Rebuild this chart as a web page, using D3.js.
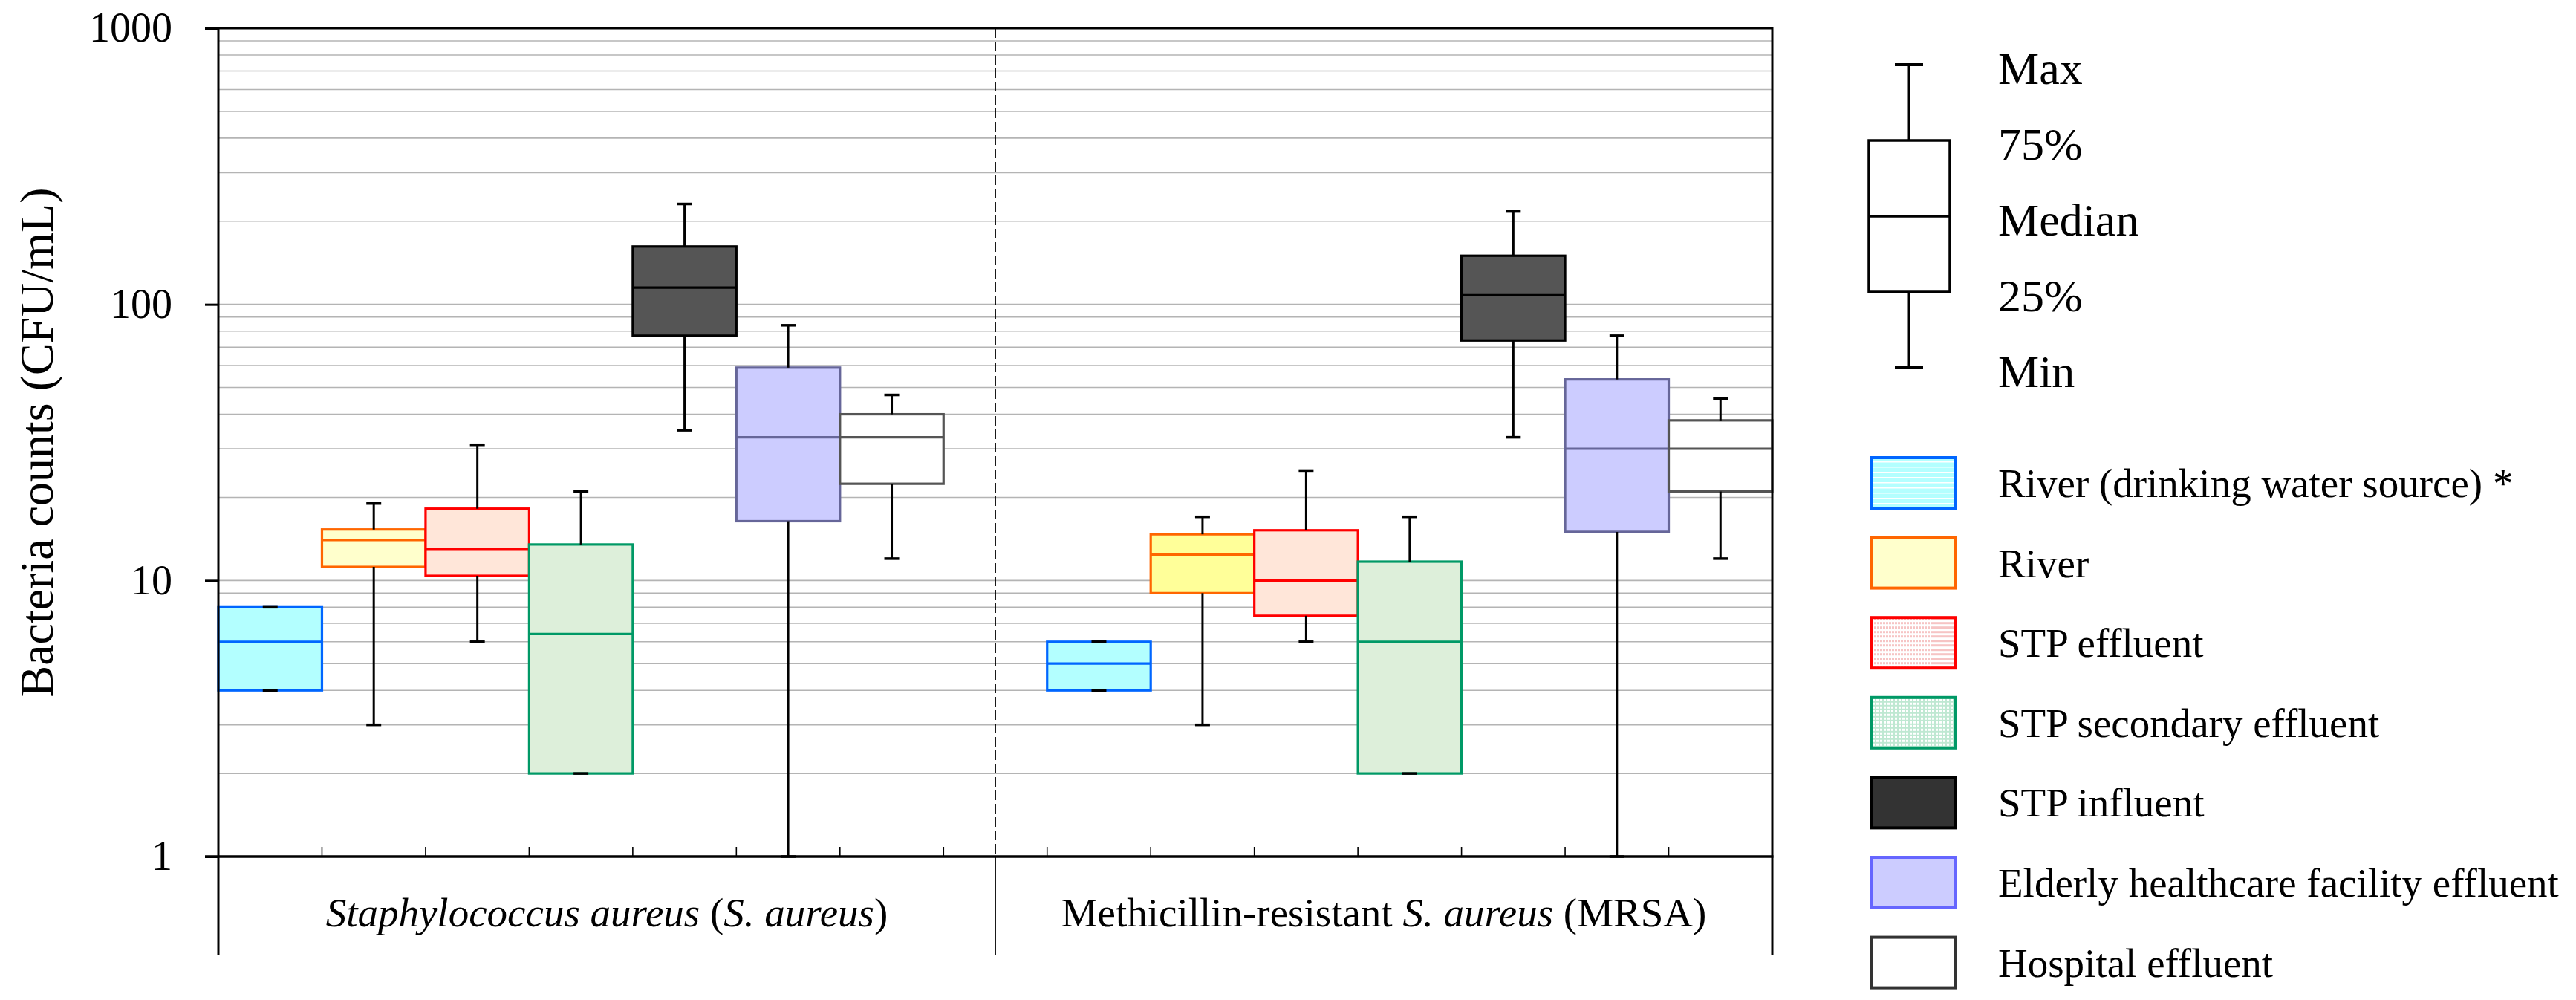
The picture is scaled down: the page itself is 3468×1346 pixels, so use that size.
<!DOCTYPE html>
<html>
<head>
<meta charset="utf-8">
<script src="https://cdn.jsdelivr.net/npm/d3@7"></script>
<style>
body { margin: 0; background: #fff; }
text { font-family: "Liberation Serif", "Times New Roman", serif; fill: #000; }
</style>
</head>
<body>
<svg id="ChartSvg" width="3468" height="1346"></svg>
<script>
// categories and series
var Categories = ["S. aureus", "MRSA"];
var SeriesNames = ["River (drinking water source) *", "River", "STP effluent", "STP secondary effluent",
	"STP influent", "Elderly healthcare facility effluent", "Hospital effluent"];

// S. aureus (CFU/mL)
var SaureusMin    = [4, 3, 6, 2, 35, 1, 12];
var SaureusQ1     = [4, 11.2, 10.4, 2, 77, 16.4, 22.4];
var SaureusMedian = [6, 14, 13, 6.4, 115, 33, 33];
var SaureusQ3     = [8, 15.3, 18.2, 13.5, 162, 59, 40];
var SaureusMax    = [8, 19, 31, 21, 231, 84, 47];

// MRSA (CFU/mL)
var MrsaMin    = [4, 3, 6, 2, 33, 1, 12];
var MrsaQ1     = [4, 9, 7.45, 2, 74, 15, 21];
var MrsaMedian = [5, 12.4, 10, 6, 108, 30, 30];
var MrsaQ3     = [6, 14.7, 15.2, 11.7, 150, 53.5, 38];
var MrsaMax    = [6, 17, 25, 17, 217, 77, 45.6];

var YTicks = [1, 10, 100, 1000];
var KeyLabels = ["Max", "75%", "Median", "25%", "Min"];
var KeyValues = [5, 4, 3, 2, 1];

// styles
var BoxFill = [["#B3FFFF", "#FFFFCC", "#FFE6D9", "#DDEFDA", "#555555", "#CCCCFF", "#FFFFFF"],
	["#B3FFFF", "#FFFF99", "#FFE6D9", "#DDEFDA", "#555555", "#CCCCFF", "#FFFFFF"]];
var BoxStroke = ["#0066FF", "#FF6600", "#FF0000", "#009966", "#000000", "#666699", "#555555"];
var LegendFill = ["url(#PatCyan)", "#FFFFCC", "url(#PatPink)", "url(#PatGreen)", "#333333", "#CCCCFF", "#FFFFFF"];
var LegendStroke = ["#0066FF", "#FF6600", "#FF0000", "#009966", "#000000", "#6666FF", "#333333"];

var Left = 294, Right = 2386, Top = 38, Bottom = 1153, Below = 1285;
var svg = d3.select("#ChartSvg");

var y = d3.scaleLog().domain([1, 1000]).range([Bottom, Top]);
var x = d3.scaleBand().domain(d3.range(15)).range([Left, Right]).padding(0);

function PanelData(Min, Q1, Med, Q3, Max, p)
{
	return SeriesNames.map(function(name, i)
	{
		return {slot: p * 8 + i, s: i, p: p, min: Min[i], q1: Q1[i], med: Med[i], q3: Q3[i], max: Max[i]};
	});
}
var BoxData = PanelData(SaureusMin, SaureusQ1, SaureusMedian, SaureusQ3, SaureusMax, 0)
	.concat(PanelData(MrsaMin, MrsaQ1, MrsaMedian, MrsaQ3, MrsaMax, 1));

// patterns for legend swatches
var defs = svg.append("defs");
var p1 = defs.append("pattern").attr("id", "PatCyan").attr("patternUnits", "userSpaceOnUse").attr("width", 6).attr("height", 7);
p1.append("rect").attr("width", 6).attr("height", 7).attr("fill", "#B3FFFF");
p1.append("rect").attr("y", 5).attr("width", 6).attr("height", 1.5).attr("fill", "#FFFFFF");
var p2 = defs.append("pattern").attr("id", "PatPink").attr("patternUnits", "userSpaceOnUse").attr("width", 4).attr("height", 6);
p2.append("rect").attr("width", 4).attr("height", 6).attr("fill", "#FFFFFF");
p2.append("rect").attr("width", 3).attr("height", 3).attr("fill", "#F6C4C4");
var p3 = defs.append("pattern").attr("id", "PatGreen").attr("patternUnits", "userSpaceOnUse").attr("width", 5).attr("height", 5);
p3.append("rect").attr("width", 5).attr("height", 5).attr("fill", "#FFFFFF");
p3.append("rect").attr("width", 2).attr("height", 5).attr("fill", "#BFE8D2");
p3.append("rect").attr("width", 5).attr("height", 2).attr("fill", "#BFE8D2");

// grid lines
var GridValues = [];
[1, 10, 100].forEach(function(d)
{
	for (var k = 2; k <= 10; k++) GridValues.push(k * d);
});
GridValues = GridValues.filter(function(v) { return v < 1000; });
svg.append("g").selectAll("line").data(GridValues).enter().append("line")
	.attr("x1", Left).attr("x2", Right)
	.attr("y1", function(d) { return y(d); })
	.attr("y2", function(d) { return y(d); })
	.attr("stroke", "#B4B4B4").attr("stroke-width", 1.6);

// boxes
var Boxes = svg.append("g").selectAll("g").data(BoxData).enter().append("g");
Boxes.append("rect")
	.attr("x", function(d) { return x(d.slot); })
	.attr("width", x.bandwidth())
	.attr("y", function(d) { return y(d.q3); })
	.attr("height", function(d) { return y(d.q1) - y(d.q3); })
	.attr("fill", function(d) { return BoxFill[d.p][d.s]; })
	.attr("stroke", function(d) { return BoxStroke[d.s]; })
	.attr("stroke-width", 3.2);
Boxes.append("line")
	.attr("x1", function(d) { return x(d.slot); })
	.attr("x2", function(d) { return x(d.slot) + x.bandwidth(); })
	.attr("y1", function(d) { return y(d.med); })
	.attr("y2", function(d) { return y(d.med); })
	.attr("stroke", function(d) { return BoxStroke[d.s]; })
	.attr("stroke-width", 3.2);

// whiskers
function Whisker(g, from, to)
{
	var cx = function(d) { return x(d.slot) + x.bandwidth() / 2; };
	g.append("line")
		.attr("x1", cx).attr("x2", cx)
		.attr("y1", function(d) { return y(d[from]); })
		.attr("y2", function(d) { return y(d[to]); })
		.attr("stroke", "#000").attr("stroke-width", 3);
	g.append("line")
		.attr("x1", function(d) { return cx(d) - 10; })
		.attr("x2", function(d) { return cx(d) + 10; })
		.attr("y1", function(d) { return y(d[to]); })
		.attr("y2", function(d) { return y(d[to]); })
		.attr("stroke", "#000").attr("stroke-width", 3.5);
}
Whisker(Boxes, "q3", "max");
Whisker(Boxes, "q1", "min");

// frame
var Frame = svg.append("g").attr("stroke", "#000").attr("fill", "none");
Frame.append("line").attr("x1", Left).attr("x2", Right).attr("y1", Top).attr("y2", Top).attr("stroke-width", 3);
Frame.append("line").attr("x1", Left).attr("x2", Left).attr("y1", Top - 1.5).attr("y2", Below).attr("stroke-width", 3);
Frame.append("line").attr("x1", Right).attr("x2", Right).attr("y1", Top - 1.5).attr("y2", Below).attr("stroke-width", 3);
var Mid = (x(7) + x(7) + x.bandwidth()) / 2;
Frame.append("line").attr("x1", Mid).attr("x2", Mid).attr("y1", Top).attr("y2", Bottom)
	.attr("stroke-width", 1.8).attr("stroke-dasharray", "13,5");
Frame.append("line").attr("x1", Mid).attr("x2", Mid).attr("y1", Bottom).attr("y2", Below).attr("stroke-width", 1.8);
// inner ticks on the category axis
Frame.selectAll(".bt").data(d3.range(1, 15)).enter().append("line")
	.attr("x1", function(d) { return x(d); })
	.attr("x2", function(d) { return x(d); })
	.attr("y1", Bottom).attr("y2", Bottom - 13)
	.attr("stroke-width", 1.6);

// y axis
var YAxis = svg.append("g").attr("transform", "translate(" + Left + ",0)")
	.call(d3.axisLeft(y).tickValues(YTicks).tickFormat(d3.format("d")).tickSize(18).tickPadding(44));
YAxis.select(".domain").remove();
YAxis.selectAll(".tick line").attr("stroke", "#000").attr("stroke-width", 3);
YAxis.selectAll(".tick text").attr("font-family", "Liberation Serif").attr("font-size", 56).attr("fill", "#000");

// bottom axis line
svg.append("line").attr("x1", Left - 18).attr("x2", Right + 1.5).attr("y1", Bottom).attr("y2", Bottom)
	.attr("stroke", "#000").attr("stroke-width", 3.5);

svg.append("text")
	.attr("transform", "translate(71," + (Top + Bottom) / 2 + ") rotate(-90)")
	.attr("text-anchor", "middle").attr("font-size", 64)
	.text("Bacteria counts (CFU/mL)");

// category labels
var CatParts = [
	[["Staphylococcus aureus", true], [" (", false], ["S. aureus", true], [")", false]],
	[["Methicillin-resistant ", false], ["S. aureus", true], [" (MRSA)", false]]
];
CatParts.forEach(function(parts, p)
{
	var cx = p == 0 ? (Left + Mid) / 2 : (Mid + Right) / 2;
	var t = svg.append("text").attr("x", cx).attr("y", 1247).attr("text-anchor", "middle").attr("font-size", 55)
		.attr("data-category", Categories[p]);
	parts.forEach(function(pt)
	{
		t.append("tspan").attr("font-style", pt[1] ? "italic" : "normal").text(pt[0]);
	});
});

// box plot key
var Key = svg.append("g");
var ky = d3.scaleLinear().domain([1, 5]).range([495, 87]);
Key.append("line").attr("x1", 2570).attr("x2", 2570).attr("y1", ky(1)).attr("y2", ky(5)).attr("stroke", "#000").attr("stroke-width", 3);
Key.append("rect").attr("x", 2516).attr("width", 109).attr("y", ky(4)).attr("height", ky(2) - ky(4))
	.attr("fill", "#fff").attr("stroke", "#000").attr("stroke-width", 3.5);
Key.append("line").attr("x1", 2516).attr("x2", 2625).attr("y1", ky(3)).attr("y2", ky(3)).attr("stroke", "#000").attr("stroke-width", 3.5);
[1, 5].forEach(function(v)
{
	Key.append("line").attr("x1", 2551).attr("x2", 2589).attr("y1", ky(v)).attr("y2", ky(v)).attr("stroke", "#000").attr("stroke-width", 4);
});
Key.selectAll("text").data(KeyLabels).enter().append("text")
	.attr("x", 2690)
	.attr("y", function(d, i) { return ky(KeyValues[i]) + 26; })
	.attr("font-size", 62)
	.text(function(d) { return d; });

// series legend
var Legend = svg.append("g").selectAll("g").data(SeriesNames).enter().append("g")
	.attr("transform", function(d, i) { return "translate(2519," + (616 + i * 107.6) + ")"; });
Legend.append("rect").attr("width", 114).attr("height", 68)
	.attr("fill", function(d, i) { return LegendFill[i]; })
	.attr("stroke", function(d, i) { return LegendStroke[i]; })
	.attr("stroke-width", 4);
Legend.append("text").attr("x", 171).attr("y", 53).attr("font-size", 55)
	.text(function(d) { return d; });
</script>
</body>
</html>
